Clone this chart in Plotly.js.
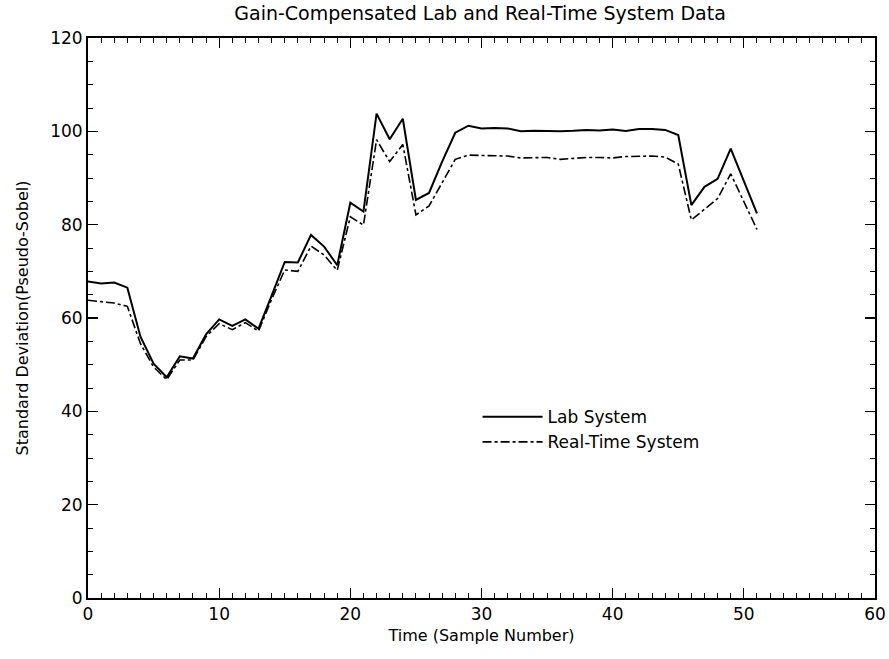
<!DOCTYPE html>
<html>
<head>
<meta charset="utf-8">
<script src="https://cdn.plot.ly/plotly-3.0.1.min.js"></script>
<style>html,body{margin:0;padding:0;background:#fff;}#chart{width:889px;height:659px;}</style>
</head>
<body>
<div id="chart"></div>
<script>
var sampleTimes = [0,1,2,3,4,5,6,7,8,9,10,11,12,13,14,15,16,17,18,19,20,21,22,23,24,25,26,27,28,29,30,31,32,33,34,35,36,37,38,39,40,41,42,43,44,45,46,47,48,49,50,51];
var labSystem = [67.8,67.4,67.6,66.5,56.0,50.2,47.3,51.8,51.3,56.5,59.7,58.3,59.7,57.7,64.8,72.0,71.9,77.8,75.3,71.3,84.7,82.8,103.8,98.3,102.7,85.3,86.8,93.5,99.7,101.2,100.6,100.7,100.6,100.0,100.1,100.0,100.0,100.1,100.3,100.2,100.4,100.1,100.5,100.5,100.3,99.2,84.2,88.1,89.8,96.3,89.3,82.4];
var realTimeSystem = [63.8,63.5,63.2,62.5,54.5,49.5,46.8,51.0,51.0,56.0,58.8,57.5,59.0,57.2,64.0,70.3,70.0,75.4,73.5,70.2,81.7,79.9,98.2,93.5,97.2,82.1,84.0,89.0,94.0,94.9,94.8,94.8,94.7,94.3,94.3,94.4,94.0,94.2,94.4,94.4,94.3,94.6,94.6,94.7,94.5,93.0,81.0,83.2,85.6,90.9,85.0,79.0];
var seriesNames = ["Lab System", "Real-Time System"];

var font = "DejaVu Sans, Liberation Sans, sans-serif";
var traces = [
  {x: sampleTimes, y: labSystem, name: seriesNames[0], type: "scatter", mode: "lines",
   line: {color: "#000", width: 2}},
  {x: sampleTimes, y: realTimeSystem, name: seriesNames[1], type: "scatter", mode: "lines",
   line: {color: "#000", width: 1.6, dash: "dashdot"}},
  // carrier for the top/right tick axes (not visible)
  {x: sampleTimes, y: labSystem, xaxis: "x2", yaxis: "y2", type: "scatter", mode: "lines",
   line: {color: "rgba(0,0,0,0)", width: 0}, opacity: 0, showlegend: false, hoverinfo: "skip"}
];
var axisCommon = {
  showgrid: false, zeroline: false, showline: true, linecolor: "#000", linewidth: 2,
  mirror: true, ticks: "inside", ticklen: 10, tickwidth: 1.2, tickcolor: "#000",
  tickfont: {family: font, size: 17, color: "#000"}
};
var minorX = {dtick: 1, ticks: "inside", ticklen: 5, tickcolor: "#000", tickwidth: 1};
var minorY = {dtick: 5, ticks: "inside", ticklen: 5, tickcolor: "#000", tickwidth: 1};
var layout = {
  width: 889, height: 659,
  margin: {l: 88, r: 14, t: 38, b: 61},
  paper_bgcolor: "#fff", plot_bgcolor: "#fff",
  showlegend: true,
  legend: {x: 0.495, y: 0.355, xanchor: "left", yanchor: "top", bgcolor: "rgba(0,0,0,0)",
           font: {family: font, size: 17, color: "#000"}, tracegroupgap: 0, itemwidth: 60},
  title: {text: "Gain-Compensated Lab and Real-Time System Data", x: 0.54, xanchor: "center", y: 0.99, yanchor: "top",
          font: {family: font, size: 19, color: "#000"}},
  xaxis: Object.assign({}, axisCommon, {
    range: [0, 60], dtick: 10, tick0: 0, minor: minorX,
    title: {text: "Time (Sample Number)", font: {family: font, size: 16, color: "#000"}, standoff: 6}
  }),
  yaxis: Object.assign({}, axisCommon, {
    range: [0, 120], dtick: 20, tick0: 0, minor: minorY,
    title: {text: "Standard Deviation(Pseudo-Sobel)", font: {family: font, size: 16, color: "#000"}, standoff: 18}
  }),
  xaxis2: {overlaying: "x", side: "top", anchor: "y", range: [0, 60], dtick: 10, tick0: 0,
    showgrid: false, zeroline: false, showline: false, showticklabels: false,
    ticks: "inside", ticklen: 10, tickwidth: 1.2, tickcolor: "#000", minor: minorX},
  yaxis2: {overlaying: "y", side: "right", anchor: "x", range: [0, 120], dtick: 20, tick0: 0,
    showgrid: false, zeroline: false, showline: false, showticklabels: false,
    ticks: "inside", ticklen: 10, tickwidth: 1.2, tickcolor: "#000", minor: minorY}
};
Plotly.newPlot("chart", traces, layout, {staticPlot: true, displayModeBar: false});
</script>
</body>
</html>
